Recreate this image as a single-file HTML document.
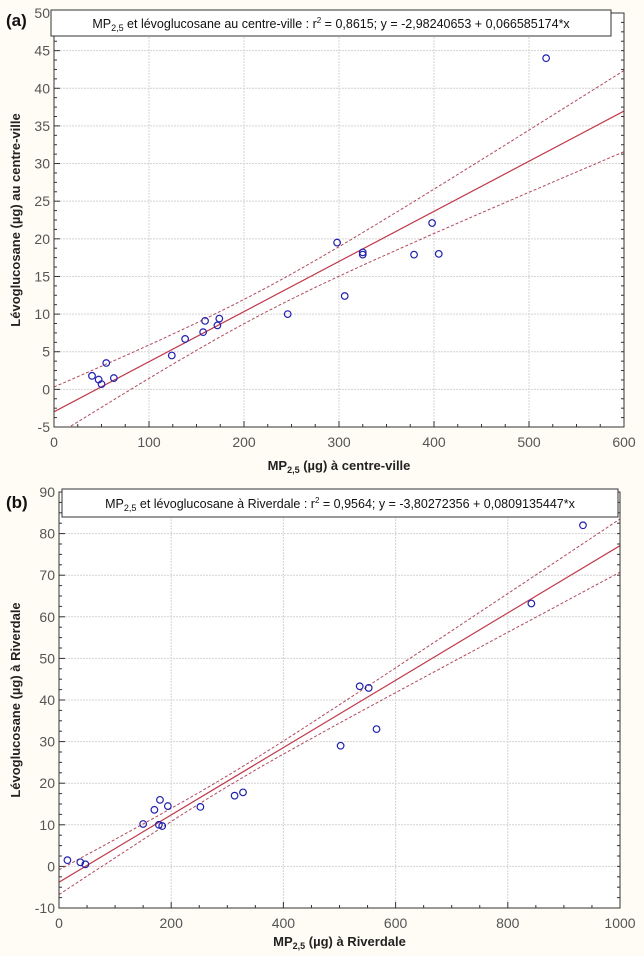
<!DOCTYPE html>
<html><head><meta charset="utf-8"><style>
html,body{margin:0;padding:0;background:#fefcf4;}
svg{display:block;font-family:"Liberation Sans",sans-serif;}
</style></head><body>
<svg id="s" width="644" height="956"></svg>
<script>
const aCatsX=[40,47,50,55,63,124,138,157,159,172,174,246,298,306,325,325,379,398,405,518];
const aValsY=[1.8,1.3,0.7,3.5,1.5,4.5,6.7,7.6,9.1,8.5,9.4,10,19.5,12.4,18.2,17.9,17.9,22.1,18,44];
const aXTicks=[0,100,200,300,400,500,600];
const aYTicks=[-5,0,5,10,15,20,25,30,35,40,45,50];
const aFit=[-2.98240653,0.066585174];
const bCatsX=[15,38,47,150,170,178,180,184,194,252,313,328,502,536,552,566,842,934];
const bValsY=[1.5,1,0.5,10.2,13.6,10,16,9.7,14.5,14.3,17,17.8,29,43.3,42.9,33,63.2,82];
const bXTicks=[0,200,400,600,800,1000];
const bYTicks=[-10,0,10,20,30,40,50,60,70,80,90];
const bFit=[-3.80272356,0.0809135447];
const NS="http://www.w3.org/2000/svg";
const svg=document.getElementById('s');
function mk(tag,attrs,parent){const e=document.createElementNS(NS,tag);for(const k in attrs)e.setAttribute(k,attrs[k]);(parent||svg).appendChild(e);return e;}
function panel(o){
  const g=mk('g',{});
  
  
  const sx=v=>o.x0+(v-o.xmin)/(o.xmax-o.xmin)*(o.x1-o.x0);
  const sy=v=>o.y1-(v-o.ymin)/(o.ymax-o.ymin)*(o.y1-o.y0);
  const bg=mk('rect',{x:o.x0,y:o.y0,width:o.x1-o.x0,height:o.y1-o.y0,fill:'#fff'},g);
  
  
  o.xt.forEach(t=>{
    const l=mk('line',{x1:sx(t),x2:sx(t),y1:o.y0,y2:o.y1,stroke:'#d4d4d4','stroke-dasharray':'2,1'},g);
    
    
    const tx=mk('text',{x:sx(t),y:o.y1+20,'text-anchor':'middle','font-size':14,fill:'#555'},g);
    tx.textContent=t;
    
    
  });
  o.yt.forEach(t=>{
    const l=mk('line',{x1:o.x0,x2:o.x1,y1:sy(t),y2:sy(t),stroke:'#d4d4d4','stroke-dasharray':'2,1'},g);
    
    
    const tx=mk('text',{x:o.x0-4,y:sy(t)+5,'text-anchor':'end','font-size':14,fill:'#555'},g);
    tx.textContent=t;
    
    
  });
  // minor ticks
  const dx=(o.xt[1]-o.xt[0])/4, dy=(o.yt[1]-o.yt[0])/4;
  for(let v=o.xmin;v<=o.xmax+1e-9;v+=dx){mk('line',{x1:sx(v),x2:sx(v),y1:o.y1,y2:o.y1-(Math.abs((v-o.xmin)/(dx*4)%1)<1e-6?6:3),stroke:'#333'},g);}
  for(let v=o.ymin;v<=o.ymax+1e-9;v+=dy){mk('line',{x1:o.x0,x2:o.x0+(Math.abs((v-o.ymin)/(dy*4)%1)<1e-6?6:3),y1:sy(v),y2:sy(v),stroke:'#333'},g);mk('line',{x1:o.x1,x2:o.x1-3,y1:sy(v),y2:sy(v),stroke:'#333'},g);}
  // fit & bands
  const clip='clip-'+o.id;
  const cp=mk('clipPath',{id:clip},g);mk('rect',{x:o.x0,y:o.y0,width:o.x1-o.x0,height:o.y1-o.y0},cp);
  const fit=x=>o.fit[0]+o.fit[1]*x;
  const hw=x=>Math.sqrt(o.h0*o.h0+o.hb*(x-o.xm)*(x-o.xm));
  let up='',lo='';
  for(let i=0;i<=60;i++){const x=o.xmin+(o.xmax-o.xmin)*i/60;up+=(i?'L':'M')+sx(x).toFixed(1)+','+sy(fit(x)+hw(x)).toFixed(1);lo+=(i?'L':'M')+sx(x).toFixed(1)+','+sy(fit(x)-hw(x)).toFixed(1);}
  const pu=mk('path',{d:up,fill:'none',stroke:'#b04a5a','stroke-width':1,'stroke-dasharray':'3,2','clip-path':'url(#'+clip+')'},g);
  
  
  const pl=mk('path',{d:lo,fill:'none',stroke:'#b04a5a','stroke-width':1,'stroke-dasharray':'3,2','clip-path':'url(#'+clip+')'},g);
  
  
  const fl=mk('line',{x1:sx(o.xmin),y1:sy(fit(o.xmin)),x2:sx(o.xmax),y2:sy(fit(o.xmax)),stroke:'#c0394a','stroke-width':1.2,'clip-path':'url(#'+clip+')'},g);
  
  
  o.px.forEach((x,i)=>{
    const c=mk('circle',{cx:sx(x),cy:sy(o.py[i]),r:3.3,fill:'none',stroke:'#2020b0','stroke-width':1.2},g);
    
    
  });
  const fr=mk('rect',{x:o.x0,y:o.y0,width:o.x1-o.x0,height:o.y1-o.y0,fill:'none',stroke:'#333','stroke-width':1},g);
  
  
  const tb=mk('rect',{x:o.tb[0],y:o.tb[1],width:o.tb[2],height:o.tb[3],fill:'#fff',stroke:'#333'},g);
  
  
  const tt=mk('text',{x:o.tb[0]+o.tb[2]/2,y:o.tb[1]+o.tb[3]/2+5,'text-anchor':'middle','font-size':12.5,fill:'#111'},g);
  tt.innerHTML=o.title;
  
  
  const lb=mk('text',{x:6,y:o.labY,'font-size':17,'font-weight':'bold',fill:'#111'},g);
  lb.textContent=o.label;
  
  
  const xt=mk('text',{x:(o.x0+o.x1)/2,y:o.xtY,'text-anchor':'middle','font-size':13,'font-weight':'bold',fill:'#222'},g);
  xt.innerHTML=o.xtitle;
  
  
  const yc=(o.y0+o.y1)/2;
  const yt=mk('text',{x:20,y:yc,'text-anchor':'middle','font-size':13,'font-weight':'bold',fill:'#222',transform:'rotate(-90 20 '+yc+')'},g);
  yt.textContent=o.ytitle;
  
  
}
panel({id:'a',x0:54,x1:624,y0:13,y1:427,xmin:0,xmax:600,ymin:-5,ymax:50,xt:aXTicks,yt:aYTicks,px:aCatsX,py:aValsY,fit:aFit,xm:215,h0:1.6,hb:1.79e-4,
  tb:[51,10,560,26],title:'MP<tspan font-size="9" dy="3">2,5</tspan><tspan dy="-3"> et lévoglucosane au centre-ville : r</tspan><tspan font-size="8" dy="-5">2</tspan><tspan dy="5"> = 0,8615; y = -2,98240653 + 0,066585174*x</tspan>',
  label:'(a)',labY:26,xtitle:'MP<tspan font-size="9" dy="3">2,5</tspan><tspan dy="-3"> (µg) à centre-ville</tspan>',xtY:470,ytitle:'Lévoglucosane (µg) au centre-ville'});
panel({id:'b',x0:59,x1:620,y0:492,y1:908,xmin:0,xmax:1000,ymin:-10,ymax:90,xt:bXTicks,yt:bYTicks,px:bCatsX,py:bValsY,fit:bFit,xm:300,h0:1.3,hb:8e-5,
  tb:[62,489,556,28],title:'MP<tspan font-size="9" dy="3">2,5</tspan><tspan dy="-3"> et lévoglucosane à Riverdale : r</tspan><tspan font-size="8" dy="-5">2</tspan><tspan dy="5"> = 0,9564; y = -3,80272356 + 0,0809135447*x</tspan>',
  label:'(b)',labY:508,xtitle:'MP<tspan font-size="9" dy="3">2,5</tspan><tspan dy="-3"> (µg) à Riverdale</tspan>',xtY:946,ytitle:'Lévoglucosane (µg) à Riverdale'});
</script>
</body></html>
